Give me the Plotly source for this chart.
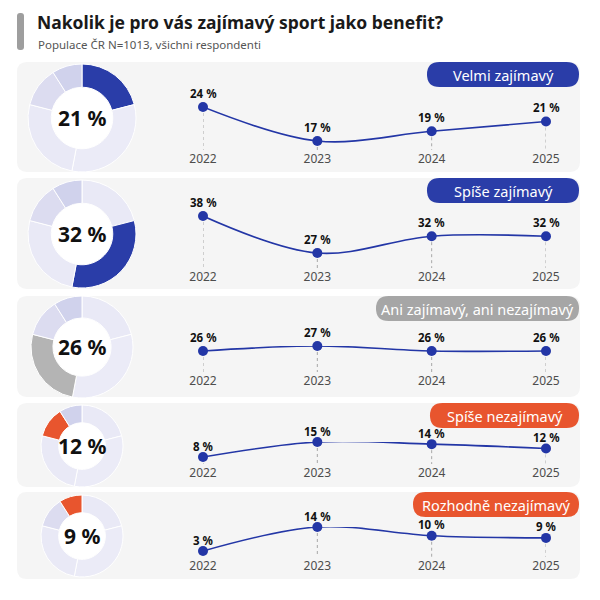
import plotly.graph_objects as go

# data
years = [2022, 2023, 2024, 2025]
categories = ["Velmi zajímavý", "Spíše zajímavý", "Ani zajímavý, ani nezajímavý",
              "Spíše nezajímavý", "Rozhodně nezajímavý"]
share_2025 = [21, 32, 26, 12, 9]
velmi = [24, 17, 19, 21]
spise = [38, 27, 32, 32]
ani = [26, 27, 26, 26]
spise_nez = [8, 15, 14, 12]
rozhodne = [3, 14, 10, 9]
series = [velmi, spise, ani, spise_nez, rozhodne]

title = "Nakolik je pro vás zajímavý sport jako benefit?"
subtitle = "Populace ČR N=1013, všichni respondenti"

# colours
BLUE = "#2a3da8"
LINE = "#2336a6"
ORANGE = "#e8552e"
highlight = [BLUE, BLUE, "#b4b4b4", ORANGE, ORANGE]
pill_colors = [BLUE, BLUE, "#a6a6a6", ORANGE, ORANGE]
lavender = ["#e9e9f6", "#ebebf7", "#e9e9f6", "#dcdcf0", "#d0d2ec"]
FONT = "Noto Sans"

# geometry in screen pixels (the page body adds an 8px offset)
OFF = 8
panels = [(62, 172), (178, 289), (296, 397), (403, 487), (492, 579)]
donuts = [(118, 54), (234, 54), (347, 51), (446, 41), (536, 41)]  # centre y, radius
DONUT_X = 82
pill_left = [427, 427, 376, 430, 413]
# pixel y of max value, min value, bottom of dotted drop line
line_px = [(107, 141, 150), (216, 253, 268), (346, 351, 372), (442, 457, 464), (527, 551, 557)]
label_shift = [14, 14, 14, 11, 11]
X0, X1 = 203, 546


def X(px):
    return (px - OFF) / 600


def Y(py):
    return 1 - (py - OFF) / 600


def rrect(x0, y0, x1, y1, r):
    pts = [
        ("M", [(x0 + r, y0)]), ("L", [(x1 - r, y0)]), ("Q", [(x1, y0), (x1, y0 + r)]),
        ("L", [(x1, y1 - r)]), ("Q", [(x1, y1), (x1 - r, y1)]), ("L", [(x0 + r, y1)]),
        ("Q", [(x0, y1), (x0, y1 - r)]), ("L", [(x0, y0 + r)]), ("Q", [(x0, y0), (x0 + r, y0)]),
    ]
    s = ""
    for cmd, ps in pts:
        s += cmd + " ".join(f"{X(a):.5f},{Y(b):.5f}" for a, b in ps)
    return s + "Z"


fig = go.Figure()
shapes = []
annotations = []

shapes.append(dict(type="path", path=rrect(17, 13, 24, 50, 3), xref="paper", yref="paper",
                   fillcolor="#9e9e9e", line_width=0, layer="below"))
annotations.append(dict(text=f"<b>{title}</b>", x=X(35), y=Y(22), xref="paper", yref="paper",
                        xanchor="left", yanchor="middle", showarrow=False,
                        font=dict(family=FONT, size=17.5, color="#1a1a1a")))
annotations.append(dict(text=subtitle, x=X(36), y=Y(45), xref="paper", yref="paper",
                        xanchor="left", yanchor="middle", showarrow=False,
                        font=dict(family=FONT, size=11.5, color="#555555")))

for i, vals in enumerate(series):
    n = i + 1
    top, bot = panels[i]
    shapes.append(dict(type="path", path=rrect(17, top, 580, bot, 10), xref="paper", yref="paper",
                       fillcolor="#f5f5f5", line_width=0, layer="below"))

    # donut
    cy, r = donuts[i]
    hole = 0.57
    rh = r * hole
    shapes.append(dict(type="circle", xref="paper", yref="paper",
                       x0=X(DONUT_X - rh), x1=X(DONUT_X + rh), y0=Y(cy + rh), y1=Y(cy - rh),
                       fillcolor="white", line_width=0, layer="below"))
    cols = list(lavender)
    cols[i] = highlight[i]
    fig.add_trace(go.Pie(values=share_2025, labels=categories, sort=False, direction="clockwise",
                         rotation=0, hole=hole, textinfo="none", hoverinfo="skip", showlegend=False,
                         marker=dict(colors=cols, line=dict(color="white", width=1)),
                         domain=dict(x=[X(DONUT_X - r), X(DONUT_X + r)], y=[Y(cy + r), Y(cy - r)])))
    annotations.append(dict(text=f"<b>{share_2025[i]} %</b>", x=X(DONUT_X), y=Y(cy), xref="paper",
                            yref="paper", showarrow=False, xanchor="center", yanchor="middle",
                            font=dict(family=FONT, size=21, color="#111111")))

    # pill label
    shapes.append(dict(type="path", path=rrect(pill_left[i], top, 579, top + 25, 12.5),
                       xref="paper", yref="paper", fillcolor=pill_colors[i], line_width=0))
    annotations.append(dict(text=categories[i], x=X((pill_left[i] + 579) / 2), y=Y(top + 12.5),
                            xref="paper", yref="paper", showarrow=False, xanchor="center",
                            yanchor="middle", font=dict(family=FONT, size=14.5, color="white")))

    # line chart scale
    p_hi, p_lo, p_base = line_px[i]
    vmax, vmin = max(vals), min(vals)
    u = (vmax - vmin) / (p_lo - p_hi)
    ymin = vmin - (p_base - p_lo) * u
    xa = "x" if n == 1 else f"x{n}"
    ya = "y" if n == 1 else f"y{n}"

    dx, dy = [], []
    for yr, v in zip(years, vals):
        dx += [yr, yr, None]
        dy += [v, ymin, None]
    fig.add_trace(go.Scatter(x=dx, y=dy, mode="lines", line=dict(color="#a8a8a8", width=1, dash="dot"),
                             hoverinfo="skip", showlegend=False, xaxis=xa, yaxis=ya, cliponaxis=False))
    fig.add_trace(go.Scatter(x=years, y=vals, mode="lines+markers",
                             line=dict(color=LINE, width=1.6, shape="spline", smoothing=1),
                             marker=dict(size=10, color=LINE), cliponaxis=False,
                             hoverinfo="skip", showlegend=False, xaxis=xa, yaxis=ya))
    for yr, v in zip(years, vals):
        annotations.append(dict(text=f"<b>{v} %</b>", x=yr, y=v, xref=xa, yref=ya,
                                yshift=label_shift[i], showarrow=False, xanchor="center",
                                yanchor="middle",
                                font=dict(family=FONT, size=11.5, color="#111111")))

    fig.layout[f"xaxis{n}" if n > 1 else "xaxis"] = dict(
        domain=[X(X0), X(X1)], range=[years[0], years[-1]], anchor=ya,
        tickvals=years, ticktext=[str(y) for y in years], ticks="", showgrid=False,
        zeroline=False, showline=False, tickfont=dict(family=FONT, size=12, color="#4d4d4d"),
        fixedrange=True, automargin=False)
    fig.layout[f"yaxis{n}" if n > 1 else "yaxis"] = dict(
        domain=[Y(p_base), Y(p_hi)], range=[ymin, vmax], anchor=xa, visible=False, fixedrange=True,
        automargin=False)

fig.update_layout(width=600, height=600, autosize=False, margin=dict(l=0, r=0, t=0, b=0, pad=0),
                  paper_bgcolor="white", plot_bgcolor="rgba(0,0,0,0)",
                  shapes=shapes, annotations=annotations, font=dict(family=FONT))

fig.write_html("out.html")
